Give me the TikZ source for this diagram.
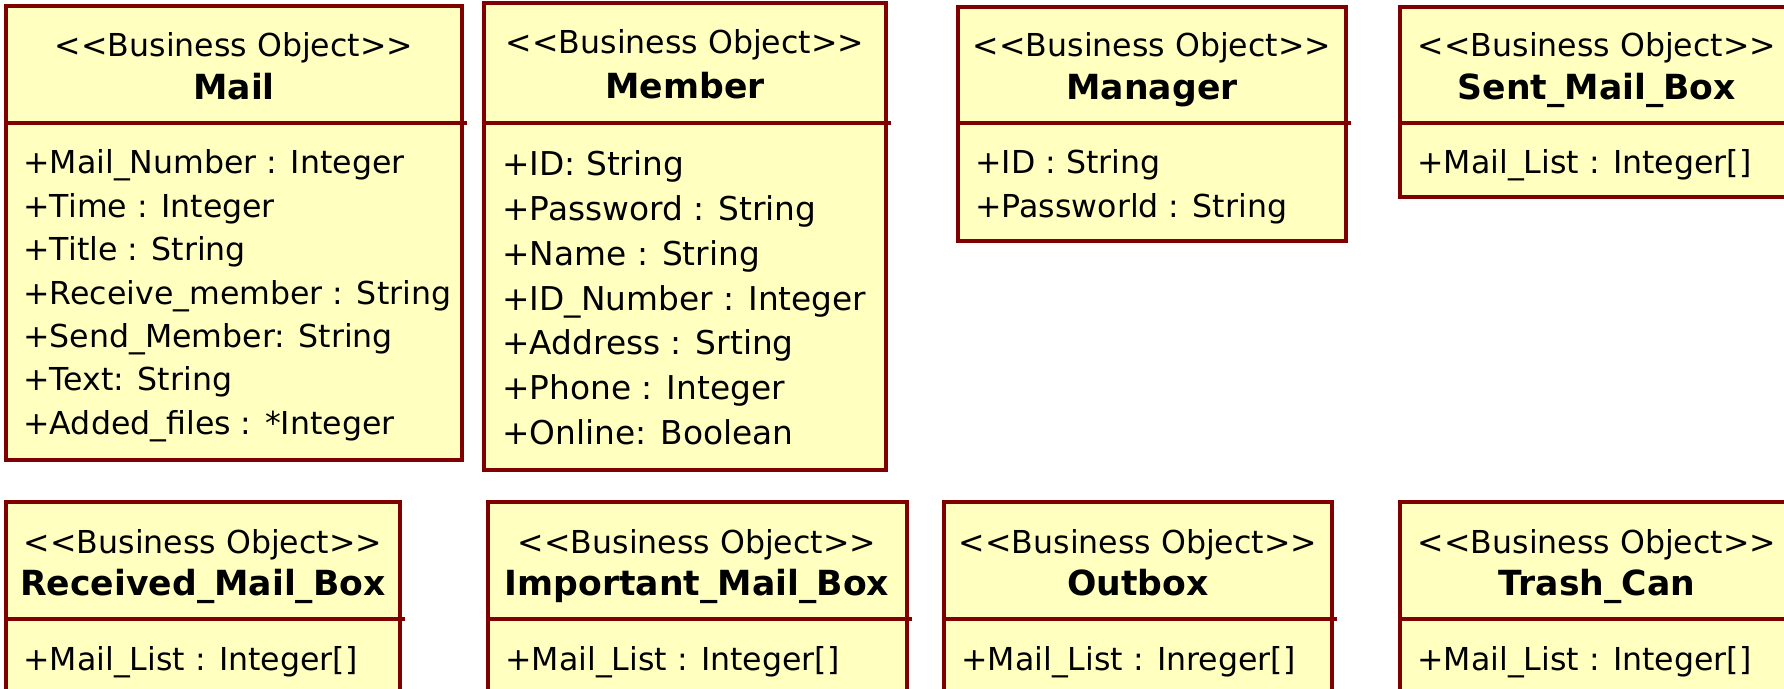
\documentclass[tikz,border=0pt]{standalone}
\usepackage{fontspec}
\setmainfont{DejaVu Sans}
\usepackage{xcolor}
\usepackage{tikz}
\definecolor{boxline}{RGB}{128,0,0}
\definecolor{boxfill}{RGB}{255,255,192}

\begin{document}
\begin{tikzpicture}[x=0.5pt,y=-0.5pt,
    box/.style={draw=boxline,line width=1.8pt,fill=boxfill},
    bar/.style={draw=boxline,line width=1.8pt},
    stereo/.style={anchor=base,inner sep=0pt,font=\fontsize{15.8}{19}\selectfont},
    cname/.style={anchor=base,inner sep=0pt,font=\fontsize{17.3}{21}\selectfont\bfseries},
    attr/.style={anchor=base west,inner sep=0pt,font=\fontsize{15.8}{19}\selectfont}]
    \useasboundingbox (0,0) rectangle (1784,689);
    \clip (0,0) rectangle (1784,689);
    \coordinate (mail-nw)    at (6,6);     \coordinate (mail-se)    at (462,460);
    \coordinate (member-nw)  at (484,3);   \coordinate (member-se)  at (886,470);
    \coordinate (manager-nw) at (958,7);   \coordinate (manager-se) at (1346,241);
    \coordinate (sent-nw)    at (1400,7);  \coordinate (sent-se)    at (1794,197);
    \coordinate (recv-nw)    at (6,502);   \coordinate (recv-se)    at (400,700);
    \coordinate (imp-nw)     at (488,502); \coordinate (imp-se)     at (907,700);
    \coordinate (out-nw)     at (944,502); \coordinate (out-se)     at (1332,700);
    \coordinate (trash-nw)   at (1400,502);\coordinate (trash-se)   at (1794,700);
    \draw[box] (mail-nw)    rectangle (mail-se);
    \draw[box] (member-nw)  rectangle (member-se);
    \draw[box] (manager-nw) rectangle (manager-se);
    \draw[box] (sent-nw)    rectangle (sent-se);
    \draw[box] (recv-nw)    rectangle (recv-se);
    \draw[box] (imp-nw)     rectangle (imp-se);
    \draw[box] (out-nw)     rectangle (out-se);
    \draw[box] (trash-nw)   rectangle (trash-se);
    \draw[bar] (6,123)    -- (467,123);
    \draw[bar] (484,123)  -- (891,123);
    \draw[bar] (958,123)  -- (1351,123);
    \draw[bar] (1400,123) -- (1799,123);
    \draw[bar] (6,619)    -- (405,619);
    \draw[bar] (488,619)  -- (912,619);
    \draw[bar] (944,619)  -- (1337,619);
    \draw[bar] (1400,619) -- (1799,619);
    \node[stereo] (mail-st)    at (234,57)   {<{}<Business Object>{}>};
    \node[stereo] (member-st)  at (685,54)   {<{}<Business Object>{}>};
    \node[stereo] (manager-st) at (1152,57)  {<{}<Business Object>{}>};
    \node[stereo] (sent-st)    at (1597,57)  {<{}<Business Object>{}>};
    \node[stereo] (recv-st)    at (203,553)  {<{}<Business Object>{}>};
    \node[stereo] (imp-st)     at (697,553)  {<{}<Business Object>{}>};
    \node[stereo] (out-st)     at (1138,553) {<{}<Business Object>{}>};
    \node[stereo] (trash-st)   at (1597,553) {<{}<Business Object>{}>};
    \node[cname] (mail-nm)    at (234,100)  {Mail};
    \node[cname] (member-nm)  at (685,99)   {Member};
    \node[cname] (manager-nm) at (1152,100) {Manager};
    \node[cname] (sent-nm)    at (1597,100) {Sent\_Mail\_Box};
    \node[cname] (recv-nm)    at (203,596)  {Received\_Mail\_Box};
    \node[cname] (imp-nm)     at (697,596)  {Important\_Mail\_Box};
    \node[cname] (out-nm)     at (1138,596) {Outbox};
    \node[cname] (trash-nm)   at (1597,596) {Trash\_Can};
    \foreach \t [count=\i from 0] in {+Mail\_Number : Integer,+Time : Integer,+Title : String,
        +Receive\_member : String,+Send\_Member: String,+Text: String,+Added\_files : *Integer}
        \node[attr] (mail-a\i) at (23,{174+43.4*\i}) {\t};
    \foreach \t [count=\i from 0] in {+ID: String,+Password : String,+Name : String,
        +ID\_Number : Integer,+Address : Srting,+Phone : Integer,+Online: Boolean}
        \node[attr,font=\fontsize{16.4}{19}\selectfont] (member-a\i) at (502,{176+44.7*\i}) {\t};
    \foreach \t [count=\i from 0] in {+ID : String,+Passworld : String}
        \node[attr] (manager-a\i) at (975,{174+44*\i}) {\t};
    \node[attr] (sent-a0)  at (1417,174) {+Mail\_List : Integer[]};
    \node[attr] (recv-a0)  at (23,670)   {+Mail\_List : Integer[]};
    \node[attr] (imp-a0)   at (505,670)  {+Mail\_List : Integer[]};
    \node[attr] (out-a0)   at (961,670)  {+Mail\_List : Inreger[]};
    \node[attr] (trash-a0) at (1417,670) {+Mail\_List : Integer[]};
\end{tikzpicture}
\end{document}
